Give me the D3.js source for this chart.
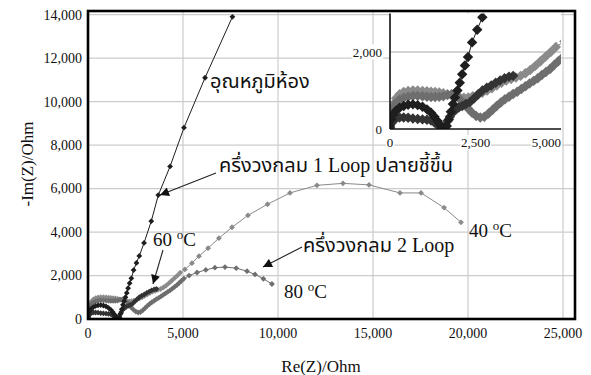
<!DOCTYPE html>
<html>
<head>
<meta charset="utf-8">
<script src="https://cdn.jsdelivr.net/npm/d3@7"></script>
<style>
  body { margin: 0; background: #fff; }
  svg { display: block; }
  .tick-label { font-family: "Liberation Serif", "Times New Roman", serif; fill: #111; }
  .thai { font-family: "Noto Sans Thai", "Loma", "Garuda", "Norasi", "Liberation Serif", serif; fill: #111; }
  .latin { font-family: "Liberation Serif", "Times New Roman", serif; }
</style>
</head>
<body>
<svg id="chart" width="591" height="375"></svg>
<script>
// Nyquist data, [Re(Z), -Im(Z)] in Ohm
const roomTemp = [[0,80],[40,250],[100,380],[180,480],[280,550],[400,600],[530,630],[670,640],[810,620],[950,580],
  [1080,510],[1200,420],[1300,320],[1390,210],[1460,110],[1530,40],[1600,20],[1660,80],[1720,250],[1780,450],
  [1840,650],[1900,820],[1970,1000],[2040,1200],[2110,1420],[2190,1650],[2280,1870],[2400,2250],[2550,2580],
  [2700,2900],[2950,3500],[3330,4500],[3700,5700],[4320,7020],[5050,8800],[6160,11100],[7600,13900]];
const temp40 = [[0,200],[40,450],[100,650],[180,800],[280,900],[400,960],[530,990],[670,1000],[810,1000],[950,990],
  [1080,980],[1200,970],[1320,960],[1440,950],[1560,930],[1680,900],[1800,870],[1920,840],[2040,820],[2160,810],
  [2290,820],[2420,850],[2560,890],[2700,940],[2840,1000],[2980,1060],[3120,1130],[3260,1200],[3400,1260],
  [3540,1300],[3680,1340],[3820,1380],[3960,1450],[4100,1530],[4250,1640],[4400,1760],[4550,1880],[4700,2000],
  [4850,2130],[5100,2280],[5470,2570],[5840,2890],[6320,3260],[6890,3720],[7580,4220],[8420,4770],[9450,5280],
  [10630,5800],[12050,6150],[13420,6240],[14790,6170],[16420,5800],[17530,5800],[18740,5120],[19630,4450]];
const temp60 = [[0,30],[40,150],[100,230],[180,280],[280,300],[400,300],[530,290],[670,270],[810,260],[950,250],
  [1080,240],[1200,220],[1300,170],[1400,100],[1480,40],[1560,20],[1620,80],[1680,200],[1750,320],[1830,420],
  [1920,500],[2010,560],[2110,600],[2220,650],[2340,700],[2460,800],[2580,900],[2700,1000],[2830,1070],
  [2960,1130],[3090,1200],[3220,1260],[3350,1320],[3480,1360],[3600,1380]];
const temp80 = [[0,150],[40,380],[100,560],[180,680],[280,760],[400,810],[530,840],[670,860],[810,860],[950,850],
  [1080,840],[1200,830],[1320,830],[1440,840],[1560,850],[1680,880],[1800,900],[1920,860],[2040,780],[2160,660],
  [2280,530],[2400,420],[2520,340],[2640,300],[2760,320],[2880,400],[3000,500],[3120,600],[3240,690],[3360,770],
  [3480,840],[3600,910],[3720,970],[3840,1040],[3960,1110],[4080,1180],[4200,1250],[4320,1320],[4440,1400],
  [4560,1480],[4680,1560],[4800,1660],[4920,1760],[5050,1860],[5320,2000],[5740,2140],[6200,2260],[6680,2360],
  [7210,2390],[7800,2340],[8370,2200],[8790,2050],[9230,1850],[9680,1610]];

const mainXTicks = [0, 5000, 10000, 15000, 20000, 25000];
const mainYTicks = [0, 2000, 4000, 6000, 8000, 10000, 12000, 14000];
const insetXTicks = [0, 2500, 5000];
const insetYTicks = [0, 2000];

const series = [
  { data: temp40, color: '#8a8a8a' },
  { data: temp80, color: '#6e6e6e' },
  { data: temp60, color: '#333333' },
  { data: roomTemp, color: '#1e1e1e' }
];

const svg = d3.select('#chart');
const fmt = d3.format(',');

// main plot
const x = d3.scaleLinear().domain([0, 25630]).range([88, 575]);
const y = d3.scaleLinear().domain([0, 14170]).range([319, 11]);

svg.append('clipPath').attr('id', 'mainClip')
  .append('rect').attr('x', 88).attr('y', 11).attr('width', 487).attr('height', 308);

const grid = svg.append('g').attr('stroke', '#cccccc').attr('stroke-width', 1.2);
grid.selectAll('.gx').data(mainXTicks.slice(1)).enter().append('line')
  .attr('x1', d => x(d)).attr('x2', d => x(d)).attr('y1', 11).attr('y2', 319);
grid.selectAll('.gy').data(mainYTicks.slice(1)).enter().append('line')
  .attr('x1', 88).attr('x2', 575).attr('y1', d => y(d)).attr('y2', d => y(d));

function drawSeries(g, sx, sy, side) {
  const line = d3.line().x(d => sx(d[0])).y(d => sy(d[1]));
  series.forEach(s => {
    g.append('path').datum(s.data)
      .attr('d', line).attr('fill', 'none').attr('stroke', s.color).attr('stroke-width', 1);
    g.selectAll(null).data(s.data).enter().append('path')
      .attr('d', d3.symbol().type(d3.symbolSquare).size(side * side)())
      .attr('transform', d => 'translate(' + sx(d[0]) + ',' + sy(d[1]) + ') rotate(45)')
      .attr('fill', s.color);
  });
}

const mainG = svg.append('g').attr('clip-path', 'url(#mainClip)');
drawSeries(mainG, x, y, 4.1);

svg.append('rect').attr('x', 88).attr('y', 11).attr('width', 487).attr('height', 308)
  .attr('fill', 'none').attr('stroke', '#000').attr('stroke-width', 2.6);

svg.selectAll('.xl').data(mainXTicks).enter().append('text')
  .attr('class', 'tick-label').attr('x', d => x(d)).attr('y', 338)
  .attr('text-anchor', 'middle').attr('font-size', 14).text(fmt);
svg.selectAll('.yl').data(mainYTicks).enter().append('text')
  .attr('class', 'tick-label').attr('x', 82).attr('y', d => y(d)).attr('dy', '0.35em')
  .attr('text-anchor', 'end').attr('font-size', 14).text(fmt);

svg.append('text').attr('class', 'tick-label').attr('x', 321).attr('y', 372)
  .attr('text-anchor', 'middle').attr('font-size', 17).text('Re(Z)/Ohm');
svg.append('text').attr('class', 'tick-label')
  .attr('transform', 'translate(33,164) rotate(-90)')
  .attr('text-anchor', 'middle').attr('font-size', 17).text('-Im(Z)/Ohm');

// annotations
svg.append('defs').append('marker').attr('id', 'arrow')
  .attr('viewBox', '0 0 10 10').attr('refX', 10).attr('refY', 5)
  .attr('markerWidth', 11).attr('markerHeight', 9).attr('markerUnits', 'userSpaceOnUse')
  .attr('orient', 'auto')
  .append('path').attr('d', 'M0,0L10,5L0,10Z').attr('fill', '#111');

const arrows = [[216, 173, 160, 195], [163, 250, 153, 284], [302, 247, 263, 267]];
svg.selectAll('.arr').data(arrows).enter().append('line')
  .attr('x1', d => d[0]).attr('y1', d => d[1]).attr('x2', d => d[2]).attr('y2', d => d[3])
  .attr('stroke', '#222').attr('stroke-width', 1.1).attr('marker-end', 'url(#arrow)');

// [thai, latin, thai] pieces
const thai = [[['อุณหภูมิห้อง'], 210, 88], [['ครึ่งวงกลม', ' 1 Loop ', 'ปลายชี้ขึ้น'], 219, 172],
  [['ครึ่งวงกลม', ' 2 Loop'], 303, 252]];
thai.forEach(t => {
  const tx = svg.append('text').attr('class', 'thai').attr('x', t[1]).attr('y', t[2])
    .attr('font-size', 20).attr('xml:space', 'preserve');
  t[0].forEach((p, i) => tx.append('tspan').attr('class', i % 2 ? 'latin' : null).text(p));
});

const temps = [['60', 153, 246], ['40', 469, 237], ['80', 284, 298]];
temps.forEach(t => {
  const tx = svg.append('text').attr('class', 'tick-label').attr('x', t[1]).attr('y', t[2])
    .attr('font-size', 19).style('fill', '#111');
  tx.append('tspan').text(t[0] + ' ');
  tx.append('tspan').attr('dy', -7).attr('font-size', 13).text('o');
  tx.append('tspan').attr('dy', 7).text('C');
});

// inset
const ix = d3.scaleLinear().domain([0, 5000]).range([390, 561]);
const iy = d3.scaleLinear().domain([0, 3000]).range([129, 13.5]);

svg.append('rect').attr('x', 390).attr('y', 13.5).attr('width', 171).attr('height', 115.5).attr('fill', '#fff');
svg.append('clipPath').attr('id', 'insetClip')
  .append('rect').attr('x', 390).attr('y', 13.5).attr('width', 171).attr('height', 115.5);

svg.append('line').attr('x1', 390).attr('x2', 561).attr('y1', iy(2000)).attr('y2', iy(2000))
  .attr('stroke', '#c4c4c4').attr('stroke-width', 1.4);

const insetG = svg.append('g').attr('clip-path', 'url(#insetClip)');
drawSeries(insetG, ix, iy, 7.4);

svg.append('line').attr('x1', 390).attr('x2', 390).attr('y1', 13.5).attr('y2', 129)
  .attr('stroke', '#111').attr('stroke-width', 1.6);
svg.append('line').attr('x1', 390).attr('x2', 561).attr('y1', 129).attr('y2', 129)
  .attr('stroke', '#111').attr('stroke-width', 1.6);

function labelWithBg(txt, px, py, anchor) {
  const t = svg.append('text').attr('class', 'tick-label').attr('x', px).attr('y', py)
    .attr('text-anchor', anchor).attr('font-size', 13).text(txt);
  const b = t.node().getBBox();
  svg.insert('rect', () => t.node()).attr('x', b.x - 1).attr('y', b.y).attr('width', b.width + 2)
    .attr('height', b.height).attr('fill', '#fff');
}
insetYTicks.forEach(v => labelWithBg(fmt(v), 382, iy(v) + 4.5, 'end'));
insetXTicks.forEach((v, i) => labelWithBg(fmt(v), i === insetXTicks.length - 1 ? 561 : ix(v),
  147, i === insetXTicks.length - 1 ? 'end' : 'middle'));
</script>
</body>
</html>
